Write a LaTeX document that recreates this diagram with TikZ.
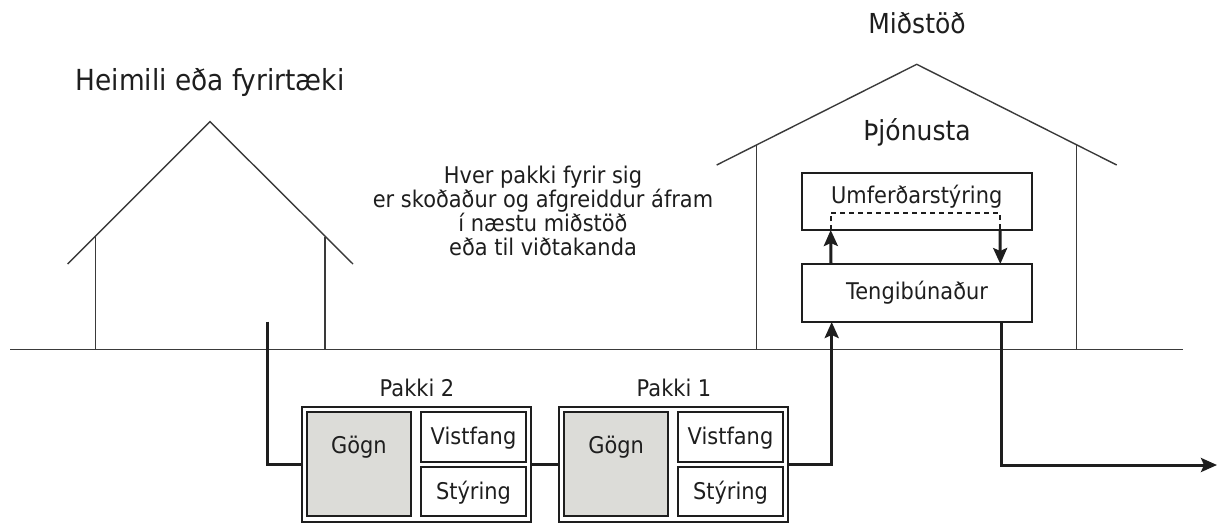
\documentclass[tikz,border=0pt]{standalone}
\usepackage{fontspec}
\setmainfont{DejaVu Sans}[FakeStretch=0.91]
\usetikzlibrary{arrows.meta}
\definecolor{ink}{HTML}{1E1E1E}
\definecolor{house}{HTML}{3A3A3A}
\definecolor{fillg}{HTML}{DCDCD8}
\begin{document}
\begin{tikzpicture}[x=1pt,y=-1pt,
  txt/.style={text=ink,font=\fontsize{23}{24}\selectfont,inner sep=0pt},
  head/.style={text=ink,font=\fontsize{27.5}{30}\selectfont,inner sep=0pt},
  hline/.style={draw=house,line width=1.4pt},
  bx/.style={draw=ink,line width=2pt,inner sep=0pt,outer sep=0pt,txt},
  outerbx/.style={bx,minimum width=229.3pt,minimum height=115pt},
  gbx/.style={bx,fill=fillg,minimum width=104.3pt,minimum height=104pt,text height=17pt,text depth=38.4pt},
  sbx/.style={bx,minimum width=104.7pt,text height=16.5pt,text depth=0pt},
  conn/.style={draw=ink,line width=3pt},
  tip/.style={-{Stealth[length=16pt,width=14pt,inset=3pt]}},
]
\useasboundingbox (0,0) rectangle (1218,523);
\fill[white] (0,0) rectangle (1218,523);

% ground
\draw[draw=house,line width=1.6pt] (10,349.5) -- (1182.7,349.5);

% left house
\draw[hline] (67.7,264) -- (210,121.7) -- (353,264);
\draw[hline] (95.7,236) -- (95.7,349.5);
\draw[hline] (325,236.5) -- (325,349.5);

% right house
\draw[hline] (716.7,165) -- (916.7,64.3) -- (1116.7,165);
\draw[hline] (756.7,145) -- (756.7,349.5);
\draw[hline] (1076.7,145) -- (1076.7,349.5);

% headings
\node[head,anchor=base,font=\fontsize{29}{30}\selectfont] (hL) at (210,90) {Heimili eða fyrirtæki};
\node[head,anchor=base] (hR) at (917,33) {Miðstöð};
\node[head,anchor=base] (hS) at (917,140) {Þjónusta};

% description
\node[txt,align=center] (desc) at (543,211) {Hver pakki fyrir sig\\er skoðaður og afgreiddur áfram\\í næstu miðstöð\\eða til viðtakanda};

% centre boxes
\node[bx,minimum width=230pt,minimum height=57pt,text height=17pt,text depth=14pt] (umf) at (916.7,201.5) {Umferðarstýring};
\node[bx,minimum width=230pt,minimum height=58pt] (teng) at (917,293) {Tengibúnaður};

% packets
\node[outerbx] (pk2) at (416.35,464.2) {};
\node[gbx] (gogn2) at (358.85,463.7) {Gögn};
\node[sbx,minimum height=50pt] (vist2) at (473.5,436.7) {Vistfang};
\node[sbx,minimum height=49pt] (sty2) at (473.5,491.2) {Stýring};
\node[txt,anchor=base] (lab2) at (417,396) {Pakki 2};

\node[outerbx] (pk1) at (673.65,464.2) {};
\node[gbx] (gogn1) at (616.15,463.7) {Gögn};
\node[sbx,minimum height=50pt] (vist1) at (730.5,436.7) {Vistfang};
\node[sbx,minimum height=49pt] (sty1) at (730.5,491.2) {Stýring};
\node[txt,anchor=base] (lab1) at (674,396) {Pakki 1};

% connectors
\coordinate (src) at (267.7,321.7);
\coordinate (dst) at (1217,465);
\draw[conn] (src) |- (pk2.west);
\draw[conn] (pk2.east) -- (pk1.west);
\draw[conn,tip] (pk1.east) -| ([xshift=29.7pt]teng.south west);
\draw[conn,tip] ([xshift=-30.3pt]teng.south east) |- (dst);

\draw[conn,tip] ([xshift=29pt]teng.north west) -- ([xshift=29pt]umf.south west);
\draw[conn,tip] ([xshift=-31.7pt]umf.south east) -- ([xshift=-31.7pt]teng.north east);
\draw[draw=ink,line width=2pt,dash pattern=on 5pt off 4pt]
  ([xshift=29pt]umf.south west) |- ([xshift=-31.7pt,yshift=17.3pt]umf.south east) -- ([xshift=-31.7pt]umf.south east);
\end{tikzpicture}
\end{document}
